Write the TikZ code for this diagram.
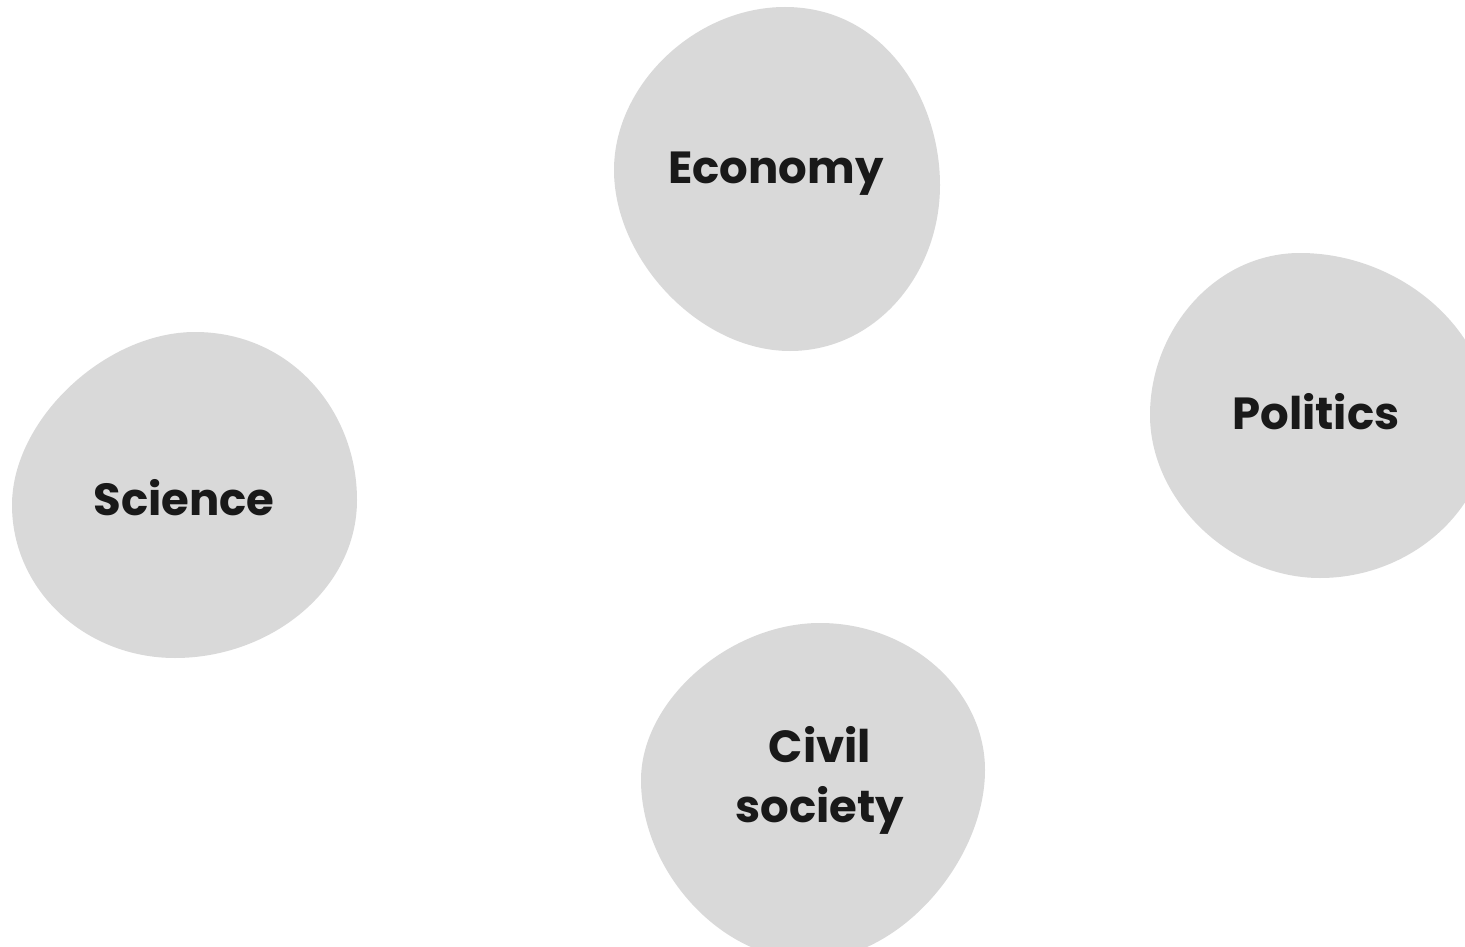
\documentclass[tikz,border=0pt]{standalone}
\usepackage{fontspec}
\setmainfont{Poppins}
\usepackage{xcolor}
\usepackage{tikz}

\definecolor{blobgray}{HTML}{D9D9D9}

\begin{document}
\begin{tikzpicture}[
  x=1pt, y=-1pt,
  blob/.style={fill=blobgray, draw=none},
  label/.style={font=\fontsize{45}{60}\selectfont\bfseries, text=black!90, align=center}
]
\useasboundingbox (0,0) rectangle (1465,947);
\clip (0,0) rectangle (1465,947);

% blobs
\path[blob] (785,7) .. controls (885,7) and (940,100) .. (940,185)
  .. controls (940,275) and (875,351) .. (790,351)
  .. controls (700,351) and (614,260) .. (614,170)
  .. controls (614,85) and (695,7) .. (785,7) -- cycle;
\path[blob] (195,332) .. controls (290,332) and (357,410) .. (357,500)
  .. controls (357,590) and (270,658) .. (175,658)
  .. controls (85,658) and (12,590) .. (12,505)
  .. controls (12,420) and (105,332) .. (195,332) -- cycle;
\path[blob] (1300,253) .. controls (1400,253) and (1490,330) .. (1490,420)
  .. controls (1490,510) and (1410,578) .. (1320,578)
  .. controls (1230,578) and (1150,500) .. (1150,415)
  .. controls (1150,330) and (1215,253) .. (1300,253) -- cycle;
\path[blob] (820,623) .. controls (910,623) and (985,690) .. (985,770)
  .. controls (985,860) and (900,960) .. (810,960)
  .. controls (720,960) and (641,870) .. (641,780)
  .. controls (641,700) and (730,623) .. (820,623) -- cycle;

% labels
\node[label] (economy) at (776,174) {Economy};
\node[label] (science) at (184,498) {Science};
\node[label] (politics) at (1316,412) {Politics};
\node[label] (civil) at (820,780) {Civil\\society};
\end{tikzpicture}
\end{document}
